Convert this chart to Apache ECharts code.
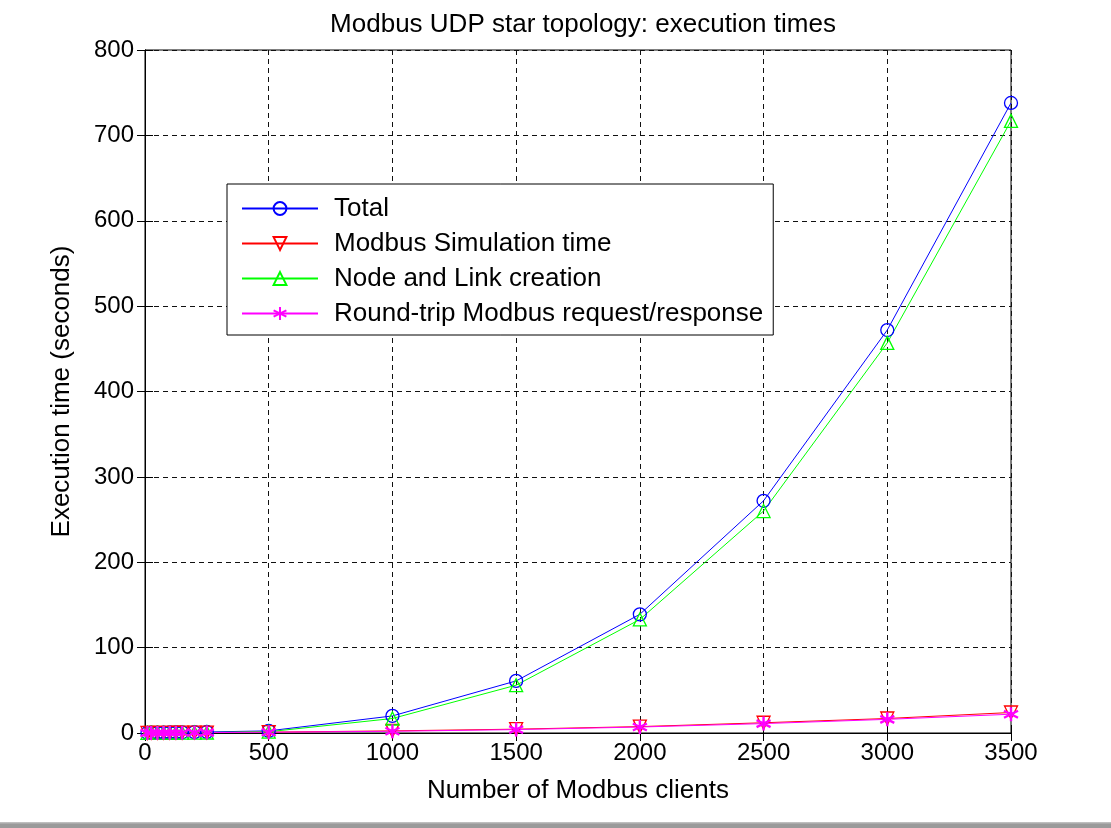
<!DOCTYPE html>
<html>
<head>
<meta charset="utf-8">
<script src="https://cdn.jsdelivr.net/npm/echarts@6/dist/echarts.min.js"></script>
<style>
  html, body { margin: 0; padding: 0; background: #fff; }
  #chart { width: 1111px; height: 828px; }
</style>
</head>
<body>
<div id="chart"></div>
<script>
// Number of Modbus clients simulated
const clients = [10, 25, 50, 75, 100, 125, 150, 200, 250, 500, 1000, 1500, 2000, 2500, 3000, 3500];
// Execution times in seconds
const totalTime      = [0.2, 0.3, 0.4, 0.5, 0.6, 0.7, 0.8, 1.0, 1.2, 2.5, 20, 61, 139, 272, 472, 738];
const simulationTime = [0.05, 0.1, 0.15, 0.2, 0.25, 0.3, 0.35, 0.45, 0.5, 1.0, 2.5, 4.5, 7.5, 12, 17, 24];
const creationTime   = [0.1, 0.15, 0.2, 0.25, 0.3, 0.35, 0.4, 0.5, 0.6, 1.5, 17, 56, 133, 260, 457, 717];
const roundTripTime  = [0.05, 0.1, 0.12, 0.15, 0.2, 0.25, 0.3, 0.4, 0.45, 0.9, 2, 4, 7, 11, 16, 22];

const seriesNames = [
  'Total',
  'Modbus Simulation time',
  'Node and Link creation',
  'Round-trip Modbus request/response'
];
const xTicks = { min: 0, max: 3500, interval: 500 };
const yTicks = { min: 0, max: 800, interval: 100 };

const FONT = '"Liberation Sans", Arial, sans-serif';
const asterisk = 'path://M0,-10L0,10M-8.66,-5L8.66,5M-8.66,5L8.66,-5';

function pairs(ys) { return clients.map((x, i) => [x, ys[i]]); }

function lineSeries(name, ys, color, symbol, rotate, bw, size) {
  return {
    name: name,
    type: 'line',
    data: pairs(ys),
    symbol: symbol,
    symbolSize: size || 13,
    symbolRotate: rotate || 0,
    showAllSymbol: true,
    lineStyle: { color: color, width: 1 },
    itemStyle: { color: 'rgba(255,255,255,0)', borderColor: color, borderWidth: bw || 1.3 },
    emphasis: { disabled: true },
    animation: false
  };
}

const gridDash = { type: [5, 4], color: '#111', width: 1 };
const tickIn = { show: true, inside: true, length: 8, lineStyle: { color: '#000', width: 1 } };

const chart = echarts.init(document.getElementById('chart'), null, { renderer: 'canvas' });
chart.setOption({
  backgroundColor: '#fff',
  animation: false,
  title: {
    text: 'Modbus UDP star topology: execution times',
    left: 578, top: 7, textAlign: 'center',
    textStyle: { fontFamily: FONT, fontSize: 26, fontWeight: 'normal', color: '#000' }
  },
  grid: {
    left: 145, right: 100, top: 50, bottom: 95,
    show: true, borderColor: '#000', borderWidth: 1, backgroundColor: '#fff'
  },
  legend: {
    orient: 'vertical',
    left: 227, top: 184,
    padding: [11, 10, 8, 14],
    itemGap: 8,
    itemWidth: 76, itemHeight: 16,
    backgroundColor: '#fff',
    borderColor: '#000', borderWidth: 1,
    selectedMode: false,
    data: seriesNames,
    textStyle: { fontFamily: FONT, fontSize: 26, color: '#000', lineHeight: 27, padding: [0, 0, 0, 11] }
  },
  xAxis: [{
    type: 'value', min: xTicks.min, max: xTicks.max, interval: xTicks.interval,
    name: 'Number of Modbus clients', nameLocation: 'middle', nameGap: 45,
    nameTextStyle: { fontFamily: FONT, fontSize: 26, color: '#000' },
    axisLine: { show: true, onZero: false, lineStyle: { color: '#000', width: 1 } },
    axisTick: tickIn,
    axisLabel: { fontFamily: FONT, fontSize: 24, color: '#000', margin: 8, formatter: v => String(v) },
    splitLine: { show: true, lineStyle: gridDash }
  }, {
    type: 'value', position: 'top', min: xTicks.min, max: xTicks.max, interval: xTicks.interval,
    axisLine: { show: true, lineStyle: { color: '#000', width: 1 } },
    axisTick: tickIn, axisLabel: { show: false }, splitLine: { show: false }
  }],
  yAxis: [{
    type: 'value', min: yTicks.min, max: yTicks.max, interval: yTicks.interval,
    name: 'Execution time (seconds)', nameLocation: 'middle', nameGap: 70, nameRotate: 90,
    nameTextStyle: { fontFamily: FONT, fontSize: 26, color: '#000' },
    axisLine: { show: true, onZero: false, lineStyle: { color: '#000', width: 1 } },
    axisTick: tickIn,
    axisLabel: { fontFamily: FONT, fontSize: 24, color: '#000', margin: 11, formatter: v => String(v) },
    splitLine: { show: true, lineStyle: gridDash }
  }, {
    type: 'value', position: 'right', min: yTicks.min, max: yTicks.max, interval: yTicks.interval,
    axisLine: { show: true, lineStyle: { color: '#000', width: 1 } },
    axisTick: tickIn, axisLabel: { show: false }, splitLine: { show: false }
  }],
  series: [
    lineSeries(seriesNames[0], totalTime, '#0000ff', 'circle'),
    lineSeries(seriesNames[1], simulationTime, '#ff0000', 'triangle', 180),
    lineSeries(seriesNames[2], creationTime, '#00ff00', 'triangle'),
    lineSeries(seriesNames[3], roundTripTime, '#ff00ff', asterisk, 0, 2.4, 14)
  ],
  graphic: [{
    type: 'rect', left: 0, top: 822, silent: true,
    shape: { width: 1111, height: 6 },
    style: {
      fill: new echarts.graphic.LinearGradient(0, 0, 0, 1, [
        { offset: 0, color: '#c8c8c8' }, { offset: 0.4, color: '#9a9a9a' }, { offset: 1, color: '#9a9a9a' }
      ])
    }
  }]
});
</script>
</body>
</html>
